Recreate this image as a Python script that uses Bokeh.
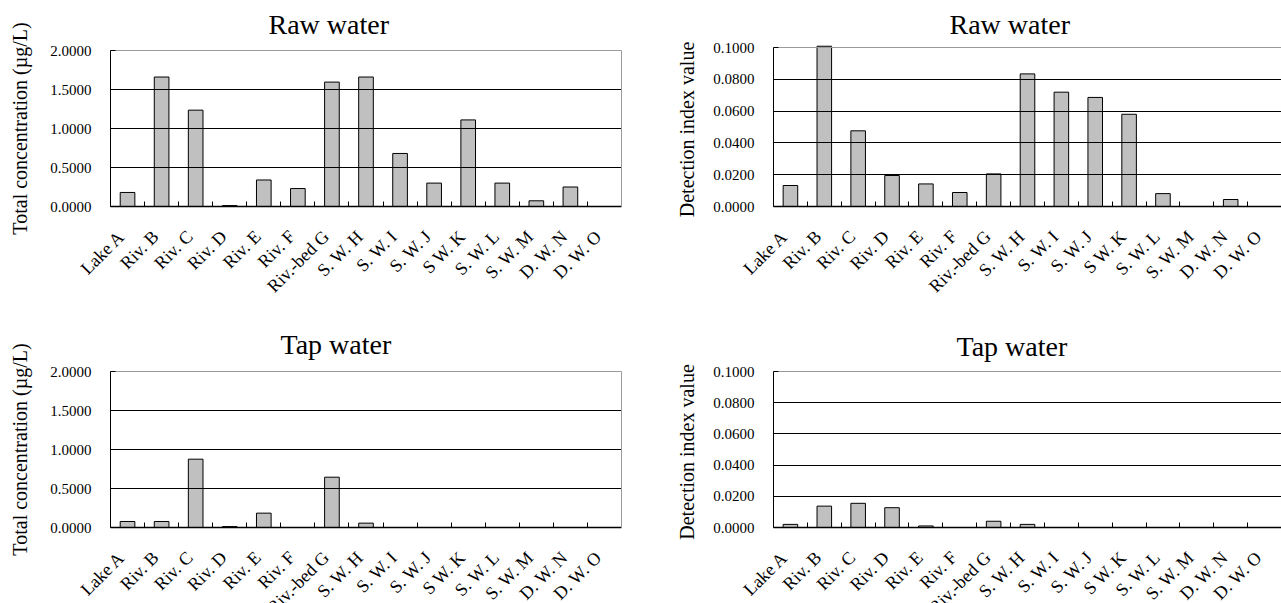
import numpy as np
from bokeh.plotting import figure
from bokeh.layouts import column, row
from bokeh.models import (Range1d, FixedTicker, NumeralTickFormatter, ColumnDataSource,
                          LinearAxis, LabelSet, Label)
from bokeh.embed import file_html
from bokeh.resources import INLINE

categories = ["Lake A", "Riv. B", "Riv. C", "Riv. D", "Riv. E", "Riv. F", "Riv.-bed G",
              "S. W. H", "S. W. I", "S. W. J", "S W. K", "S. W. L", "S. W. M", "D. W. N", "D. W. O"]

raw_concentration = [0.18, 1.66, 1.235, 0.012, 0.34, 0.23, 1.595, 1.66, 0.68, 0.30, 1.11, 0.30, 0.073, 0.25, 0.0]
raw_index = [0.0132, 0.1008, 0.0476, 0.0195, 0.0142, 0.0088, 0.0205, 0.0834, 0.0719, 0.0686, 0.0580, 0.0081, 0.0, 0.0044, 0.0]
tap_concentration = [0.077, 0.077, 0.876, 0.012, 0.184, 0.0, 0.645, 0.056, 0.0, 0.0, 0.0, 0.0, 0.0, 0.0, 0.0]
tap_index = [0.002, 0.0137, 0.0155, 0.0127, 0.001, 0.0, 0.004, 0.002, 0.0, 0.0, 0.0, 0.0, 0.0, 0.0, 0.0]

conc_ticks = [0.0, 0.5, 1.0, 1.5, 2.0]
index_ticks = [0.0, 0.02, 0.04, 0.06, 0.08, 0.1]

FONT = "Liberation Serif"
BORDER = "#9a9a9a"


def line_axis(loc, bounds, color):
    return LinearAxis(fixed_location=loc, bounds=bounds, ticker=FixedTicker(ticks=[]),
                      axis_line_color=color, major_label_text_font_size="0px",
                      major_tick_in=0, major_tick_out=0, minor_tick_in=0, minor_tick_out=0)


def make(values, title, ylabel, yticks, W, H, left_px, right_px, top_px, zero_px,
         title_x, title_y, label_standoff, right_border):
    # The whole figure is the frame; axes sit at fixed data locations.
    n = len(categories)
    centers = [i + 0.5 for i in range(n)]
    ymin, ymax = yticks[0], yticks[-1]
    xs = n / (right_px - left_px)
    ys = (ymax - ymin) / (zero_px - top_px)
    x0 = 0 - left_px * xs
    y1 = ymax + top_px * ys
    x_range = Range1d(x0, n + (W - right_px) * xs)
    y_range = Range1d(ymin - (H - zero_px) * ys, y1)

    src = ColumnDataSource(dict(x=centers, top=values, cat=categories))
    p = figure(width=W, height=H, x_range=x_range, y_range=y_range,
               output_backend="svg", toolbar_location=None,
               min_border_left=0, min_border_right=0, min_border_top=0, min_border_bottom=0)
    p.vbar(x="x", top="top", bottom=ymin, width=0.43, source=src,
           fill_color="#c0c0c0", line_color="black", line_width=1)

    p.add_layout(Label(x=x0 + title_x * xs, y=y1 - title_y * ys, text=title,
                       text_align="left", text_baseline="alphabetic",
                       text_font=FONT, text_font_size="28px", text_color="black"))

    p.outline_line_color = None
    p.background_fill_color = "white"
    p.border_fill_color = "white"
    p.grid.visible = False

    # horizontal gridlines between the axes, top one is the plot-area border
    for t in yticks[1:-1]:
        p.add_layout(line_axis(t, (0, n), "black"), "below")
    p.add_layout(line_axis(ymax, (0, n), BORDER), "below")
    if right_border:
        p.add_layout(line_axis(n, (ymin, ymax), BORDER), "right")

    # category axis at y = 0 with ticks between categories
    xa = p.xaxis[0]
    xa.fixed_location = ymin
    xa.bounds = (0, n)
    xa.ticker = FixedTicker(ticks=[], minor_ticks=list(range(1, n)))
    xa.major_label_text_font_size = "0px"
    xa.major_tick_in = 0
    xa.major_tick_out = 0
    xa.minor_tick_in = 5
    xa.minor_tick_out = 0
    xa.minor_tick_line_color = "black"
    xa.axis_line_color = "black"
    xa.axis_line_width = 1.5

    labels = LabelSet(x="x", y=ymin, text="cat", source=src, angle=np.pi / 4,
                      text_align="right", text_baseline="middle",
                      x_offset=-6, y_offset=-27,
                      text_font=FONT, text_font_size="18px", text_color="black")
    p.add_layout(labels)

    ya = p.yaxis[0]
    ya.fixed_location = 0
    ya.bounds = (ymin, ymax)
    ya.ticker = FixedTicker(ticks=yticks)
    ya.formatter = NumeralTickFormatter(format="0.0000")
    ya.major_tick_in = 5
    ya.major_tick_out = 0
    ya.minor_tick_in = 0
    ya.minor_tick_out = 0
    ya.major_tick_line_color = "black"
    ya.axis_line_color = "black"
    ya.axis_line_width = 1
    ya.major_label_text_font = FONT
    ya.major_label_text_font_size = "15px"
    ya.major_label_text_color = "black"
    ya.major_label_standoff = 19
    ya.axis_label = ylabel
    ya.axis_label_text_font = FONT
    ya.axis_label_text_font_size = "20px"
    ya.axis_label_text_font_style = "normal"
    ya.axis_label_text_color = "black"
    ya.axis_label_standoff = label_standoff
    return p


p1 = make(raw_concentration, "Raw water", "Total concentration (µg/L)", conc_ticks,
          640, 300, 110, 621, 50, 206, 268, 24, 16, True)
p2 = make(raw_index, "Raw water", "Detection index  value", index_ticks,
          641, 300, 133, 641, 47, 206, 309, 24, 12, False)
p3 = make(tap_concentration, "Tap water", "Total concentration (µg/L)", conc_ticks,
          640, 303, 110, 621, 71, 227, 280, 44, 16, True)
p4 = make(tap_index, "Tap water", "Detection index  value", index_ticks,
          641, 303, 133, 641, 71, 227, 316, 46, 12, False)

layout = column(row(p1, p2), row(p3, p4))
open("out.html", "w").write(file_html(layout, INLINE))
